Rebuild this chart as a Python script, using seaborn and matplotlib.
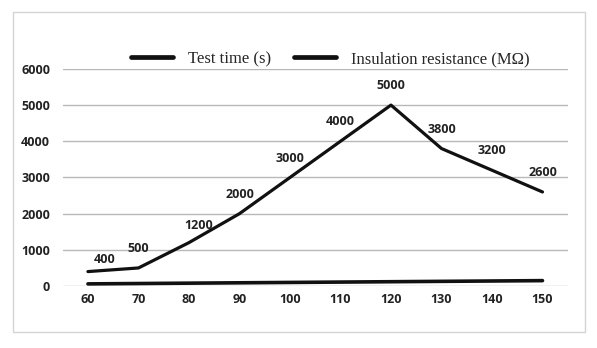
import matplotlib
matplotlib.use("Agg")
import matplotlib.pyplot as plt
from matplotlib.patches import Rectangle
from matplotlib.lines import Line2D
import seaborn as sns
import pandas as pd

# Data
test_time = [60, 70, 80, 90, 100, 110, 120, 130, 140, 150]
insulation = [400, 500, 1200, 2000, 3000, 4000, 5000, 3800, 3200, 2600]
tick_labels = [str(t) for t in test_time]
y_ticks = [0, 1000, 2000, 3000, 4000, 5000, 6000]

df = pd.DataFrame({"label": tick_labels, "time": test_time, "res": insulation})

sns.set_theme(style="white")
plt.rcParams["font.family"] = ["Open Sans", "DejaVu Sans"]

fig = plt.figure(figsize=(5.97, 3.48), dpi=100)
fig.patch.set_facecolor("white")

# outer frame
fig.patches.append(Rectangle((13 / 597, 1 - 332 / 348), 572 / 597, 320 / 348,
                             transform=fig.transFigure, fill=False,
                             edgecolor="#d4d4d4", linewidth=1.0))

ax = fig.add_axes([0.105, 0.178, 0.846, 0.624])
ax.set_facecolor("white")

sns.lineplot(data=df, x="label", y="time", ax=ax, color="#111111",
             linewidth=2.6, sort=False)
sns.lineplot(data=df, x="label", y="res", ax=ax, color="#111111",
             linewidth=2.3, sort=False)

ax.set_xlim(-0.5, len(test_time) - 0.5)
ax.set_ylim(0, 6000)
ax.set_yticks(y_ticks)
ax.set_yticklabels([str(v) for v in y_ticks])
ax.grid(axis="y", color="#b8b8b8", linewidth=1.0)
ax.set_axisbelow(True)
for s in ax.spines.values():
    s.set_visible(False)
ax.tick_params(axis="both", length=0, labelsize=9, colors="#222222")
ax.tick_params(axis="y", pad=9)
ax.tick_params(axis="x", pad=5)
for t in ax.get_xticklabels() + ax.get_yticklabels():
    t.set_fontweight("bold")
ax.set_xlabel("")
ax.set_ylabel("")

# value labels
offsets = {0: (12, 9), 2: (7, 12)}
for i, v in enumerate(insulation):
    dx, dy = offsets.get(i, (0, 14))
    ax.annotate(str(v), (i, v), xytext=(dx, dy), textcoords="offset points",
                ha="center", va="center", fontsize=9, fontweight="bold",
                color="#222222")

# legend
handles = [Line2D([], [], color="#111111", linewidth=3.4),
           Line2D([], [], color="#111111", linewidth=3.4)]
labels = ["Test time (s)", "Insulation resistance (MΩ)"]
leg = fig.legend(handles, labels, loc="center", bbox_to_anchor=(0.553, 0.83),
                 ncol=2, frameon=False, handlelength=2.5, columnspacing=1.4,
                 handletextpad=0.9,
                 prop={"family": ["Liberation Serif", "DejaVu Sans"], "size": 12})

fig.savefig("out.png", dpi=100, facecolor="white")
